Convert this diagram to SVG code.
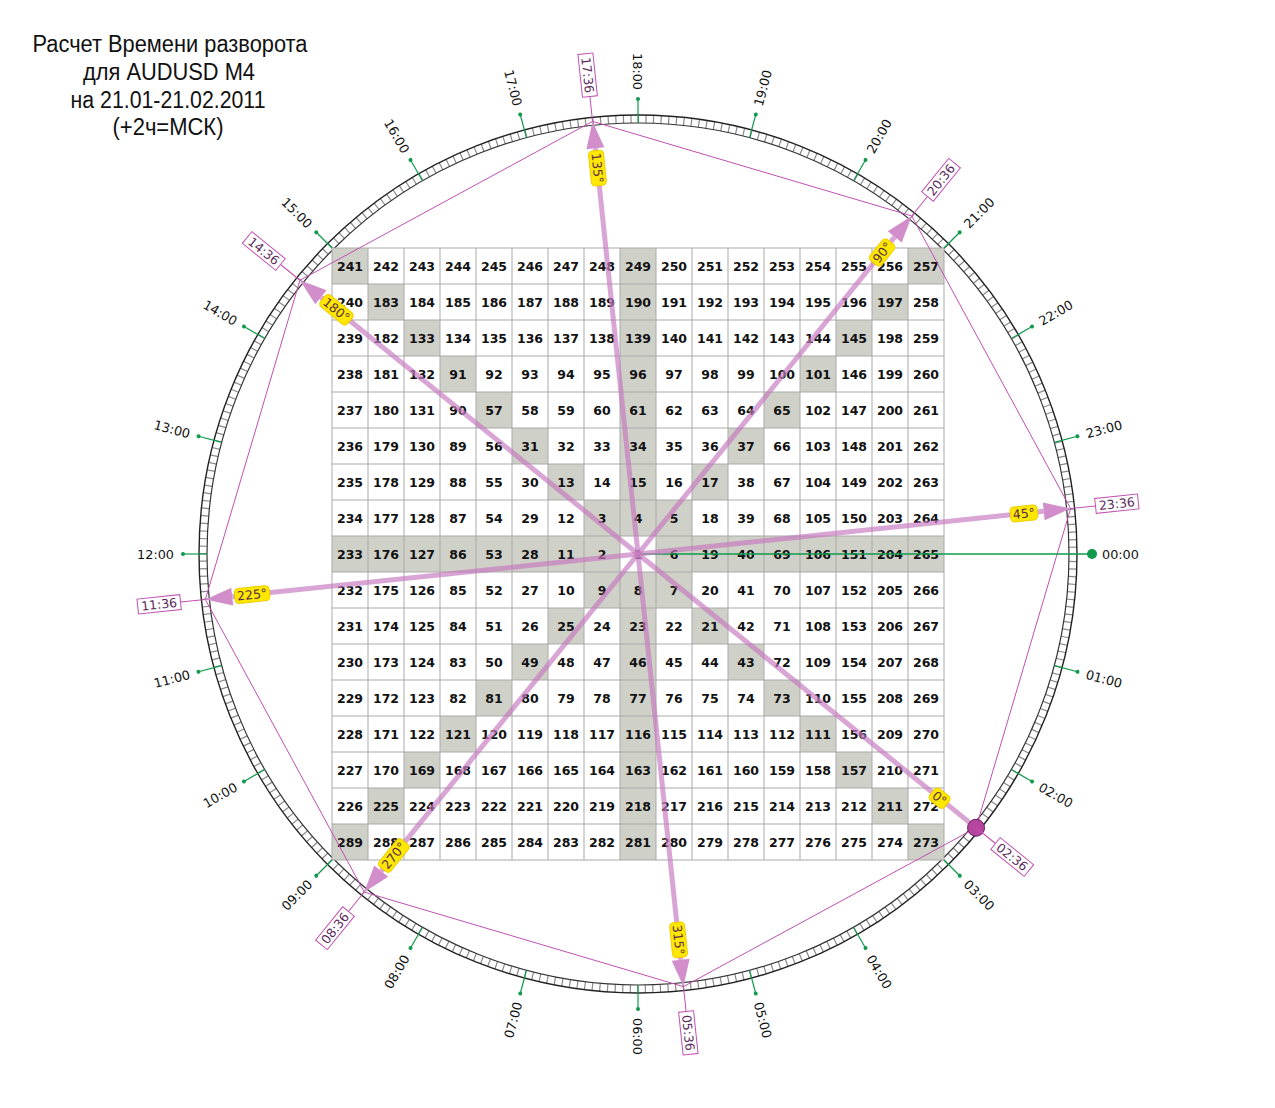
<svg xmlns="http://www.w3.org/2000/svg" width="1275" height="1108" viewBox="0 0 1275 1108">
<style>
.title{font-family:"Liberation Sans",Arial,sans-serif;font-size:23.5px;fill:#111;text-anchor:middle}
.num{font-family:"DejaVu Sans",Verdana,sans-serif;font-size:12.5px;font-weight:bold;fill:#111;text-anchor:middle}
.hr{font-family:"DejaVu Sans",Verdana,sans-serif;font-size:12.8px;fill:#111}
.st{text-anchor:start}
.en{text-anchor:end}
.tick{stroke:#109a4c;stroke-width:1.2}
.tdot{fill:#109a4c}
.tl{stroke:#c050b2;stroke-width:1;fill:none}
.tbox{fill:#fff;stroke:#c050b2;stroke-width:1}
.ttxt{font-family:"DejaVu Sans",Verdana,sans-serif;font-size:12.5px;fill:#5c2a5c;text-anchor:middle}
.arr{stroke:#c67abf;stroke-width:5;stroke-opacity:0.68}
.ahead{fill:#d28ecb}
.ybox{fill:#ffe800;stroke:#f0cc00;stroke-width:1}
.ytxt{font-family:"DejaVu Sans",Verdana,sans-serif;font-size:12.5px;fill:#5a2c4a;text-anchor:middle}
</style>

<g id="title">
<text class="title" x="170" y="52" textLength="275" lengthAdjust="spacingAndGlyphs">Расчет Времени разворота</text>
<text class="title" x="169" y="80" textLength="172" lengthAdjust="spacingAndGlyphs">для AUDUSD M4</text>
<text class="title" x="168" y="108" textLength="195" lengthAdjust="spacingAndGlyphs">на 21.01-21.02.2011</text>
<text class="title" x="168" y="135" textLength="111" lengthAdjust="spacingAndGlyphs">(+2ч=МСК)</text>
</g>

<g id="ring">
<circle cx="638" cy="554" r="435" fill="none" stroke="#8a8a8a" stroke-width="8" stroke-dasharray="1.2 6.3922" stroke-dashoffset="0.6"/>
<circle cx="638" cy="554" r="439" fill="none" stroke="#222" stroke-width="1.4"/>
<circle cx="638" cy="554" r="431" fill="none" stroke="#333" stroke-width="1.2"/>
</g>

<g id="hours">
<g transform="rotate(15 638 554)"><line class="tick" x1="1069" y1="554" x2="1093" y2="554"/><circle class="tdot" cx="1093" cy="554" r="2"/><text class="hr st" x="1102" y="554" dy=".36em">01:00</text></g>
<g transform="rotate(30 638 554)"><line class="tick" x1="1069" y1="554" x2="1093" y2="554"/><circle class="tdot" cx="1093" cy="554" r="2"/><text class="hr st" x="1102" y="554" dy=".36em">02:00</text></g>
<g transform="rotate(45 638 554)"><line class="tick" x1="1069" y1="554" x2="1093" y2="554"/><circle class="tdot" cx="1093" cy="554" r="2"/><text class="hr st" x="1102" y="554" dy=".36em">03:00</text></g>
<g transform="rotate(60 638 554)"><line class="tick" x1="1069" y1="554" x2="1093" y2="554"/><circle class="tdot" cx="1093" cy="554" r="2"/><text class="hr st" x="1102" y="554" dy=".36em">04:00</text></g>
<g transform="rotate(75 638 554)"><line class="tick" x1="1069" y1="554" x2="1093" y2="554"/><circle class="tdot" cx="1093" cy="554" r="2"/><text class="hr st" x="1102" y="554" dy=".36em">05:00</text></g>
<g transform="rotate(90 638 554)"><line class="tick" x1="1069" y1="554" x2="1093" y2="554"/><circle class="tdot" cx="1093" cy="554" r="2"/><text class="hr st" x="1102" y="554" dy=".36em">06:00</text></g>
<g transform="rotate(105 638 554)"><line class="tick" x1="1069" y1="554" x2="1093" y2="554"/><circle class="tdot" cx="1093" cy="554" r="2"/><text class="hr en" x="1102" y="554" dy=".36em" transform="rotate(180 1102 554)">07:00</text></g>
<g transform="rotate(120 638 554)"><line class="tick" x1="1069" y1="554" x2="1093" y2="554"/><circle class="tdot" cx="1093" cy="554" r="2"/><text class="hr en" x="1102" y="554" dy=".36em" transform="rotate(180 1102 554)">08:00</text></g>
<g transform="rotate(135 638 554)"><line class="tick" x1="1069" y1="554" x2="1093" y2="554"/><circle class="tdot" cx="1093" cy="554" r="2"/><text class="hr en" x="1102" y="554" dy=".36em" transform="rotate(180 1102 554)">09:00</text></g>
<g transform="rotate(150 638 554)"><line class="tick" x1="1069" y1="554" x2="1093" y2="554"/><circle class="tdot" cx="1093" cy="554" r="2"/><text class="hr en" x="1102" y="554" dy=".36em" transform="rotate(180 1102 554)">10:00</text></g>
<g transform="rotate(165 638 554)"><line class="tick" x1="1069" y1="554" x2="1093" y2="554"/><circle class="tdot" cx="1093" cy="554" r="2"/><text class="hr en" x="1102" y="554" dy=".36em" transform="rotate(180 1102 554)">11:00</text></g>
<g transform="rotate(180 638 554)"><line class="tick" x1="1069" y1="554" x2="1093" y2="554"/><circle class="tdot" cx="1093" cy="554" r="2"/><text class="hr en" x="1102" y="554" dy=".36em" transform="rotate(180 1102 554)">12:00</text></g>
<g transform="rotate(195 638 554)"><line class="tick" x1="1069" y1="554" x2="1093" y2="554"/><circle class="tdot" cx="1093" cy="554" r="2"/><text class="hr en" x="1102" y="554" dy=".36em" transform="rotate(180 1102 554)">13:00</text></g>
<g transform="rotate(210 638 554)"><line class="tick" x1="1069" y1="554" x2="1093" y2="554"/><circle class="tdot" cx="1093" cy="554" r="2"/><text class="hr en" x="1102" y="554" dy=".36em" transform="rotate(180 1102 554)">14:00</text></g>
<g transform="rotate(225 638 554)"><line class="tick" x1="1069" y1="554" x2="1093" y2="554"/><circle class="tdot" cx="1093" cy="554" r="2"/><text class="hr en" x="1102" y="554" dy=".36em" transform="rotate(180 1102 554)">15:00</text></g>
<g transform="rotate(240 638 554)"><line class="tick" x1="1069" y1="554" x2="1093" y2="554"/><circle class="tdot" cx="1093" cy="554" r="2"/><text class="hr en" x="1102" y="554" dy=".36em" transform="rotate(180 1102 554)">16:00</text></g>
<g transform="rotate(255 638 554)"><line class="tick" x1="1069" y1="554" x2="1093" y2="554"/><circle class="tdot" cx="1093" cy="554" r="2"/><text class="hr en" x="1102" y="554" dy=".36em" transform="rotate(180 1102 554)">17:00</text></g>
<g transform="rotate(270 638 554)"><line class="tick" x1="1069" y1="554" x2="1093" y2="554"/><circle class="tdot" cx="1093" cy="554" r="2"/><text class="hr en" x="1102" y="554" dy=".36em" transform="rotate(180 1102 554)">18:00</text></g>
<g transform="rotate(285 638 554)"><line class="tick" x1="1069" y1="554" x2="1093" y2="554"/><circle class="tdot" cx="1093" cy="554" r="2"/><text class="hr st" x="1102" y="554" dy=".36em">19:00</text></g>
<g transform="rotate(300 638 554)"><line class="tick" x1="1069" y1="554" x2="1093" y2="554"/><circle class="tdot" cx="1093" cy="554" r="2"/><text class="hr st" x="1102" y="554" dy=".36em">20:00</text></g>
<g transform="rotate(315 638 554)"><line class="tick" x1="1069" y1="554" x2="1093" y2="554"/><circle class="tdot" cx="1093" cy="554" r="2"/><text class="hr st" x="1102" y="554" dy=".36em">21:00</text></g>
<g transform="rotate(330 638 554)"><line class="tick" x1="1069" y1="554" x2="1093" y2="554"/><circle class="tdot" cx="1093" cy="554" r="2"/><text class="hr st" x="1102" y="554" dy=".36em">22:00</text></g>
<g transform="rotate(345 638 554)"><line class="tick" x1="1069" y1="554" x2="1093" y2="554"/><circle class="tdot" cx="1093" cy="554" r="2"/><text class="hr st" x="1102" y="554" dy=".36em">23:00</text></g>
</g>

<g id="grid">
<rect x="332" y="248" width="612" height="612" fill="#fff"/>
<path fill="#cfd0c8" d="M332 536h612v36h-612z M620 248h36v612h-36z
M332 248h36v36h-36z M908 248h36v36h-36z
M368 284h36v36h-36z M872 284h36v36h-36z
M404 320h36v36h-36z M836 320h36v36h-36z
M440 356h36v36h-36z M800 356h36v36h-36z
M476 392h36v36h-36z M764 392h36v36h-36z
M512 428h36v36h-36z M728 428h36v36h-36z
M548 464h36v36h-36z M692 464h36v36h-36z
M584 500h36v36h-36z M656 500h36v36h-36z
M584 572h36v36h-36z M656 572h36v36h-36z
M548 608h36v36h-36z M692 608h36v36h-36z
M512 644h36v36h-36z M728 644h36v36h-36z
M476 680h36v36h-36z M764 680h36v36h-36z
M440 716h36v36h-36z M800 716h36v36h-36z
M404 752h36v36h-36z M836 752h36v36h-36z
M368 788h36v36h-36z M872 788h36v36h-36z
M332 824h36v36h-36z M908 824h36v36h-36z"/>
<rect x="620" y="536" width="36" height="36" fill="#fff"/>
<path fill="none" stroke="#a9a9a9" stroke-width="1" d="M332 248v612M368 248v612M404 248v612M440 248v612M476 248v612M512 248v612M548 248v612M584 248v612M620 248v612M656 248v612M692 248v612M728 248v612M764 248v612M800 248v612M836 248v612M872 248v612M908 248v612M944 248v612
M332 248h612M332 284h612M332 320h612M332 356h612M332 392h612M332 428h612M332 464h612M332 500h612M332 536h612M332 572h612M332 608h612M332 644h612M332 680h612M332 716h612M332 752h612M332 788h612M332 824h612M332 860h612"/>
<g class="num">
<text y="270.5"><tspan x="350">241</tspan><tspan x="386">242</tspan><tspan x="422">243</tspan><tspan x="458">244</tspan><tspan x="494">245</tspan><tspan x="530">246</tspan><tspan x="566">247</tspan><tspan x="602">248</tspan><tspan x="638">249</tspan><tspan x="674">250</tspan><tspan x="710">251</tspan><tspan x="746">252</tspan><tspan x="782">253</tspan><tspan x="818">254</tspan><tspan x="854">255</tspan><tspan x="890">256</tspan><tspan x="926">257</tspan></text>
<text y="306.5"><tspan x="350">240</tspan><tspan x="386">183</tspan><tspan x="422">184</tspan><tspan x="458">185</tspan><tspan x="494">186</tspan><tspan x="530">187</tspan><tspan x="566">188</tspan><tspan x="602">189</tspan><tspan x="638">190</tspan><tspan x="674">191</tspan><tspan x="710">192</tspan><tspan x="746">193</tspan><tspan x="782">194</tspan><tspan x="818">195</tspan><tspan x="854">196</tspan><tspan x="890">197</tspan><tspan x="926">258</tspan></text>
<text y="342.5"><tspan x="350">239</tspan><tspan x="386">182</tspan><tspan x="422">133</tspan><tspan x="458">134</tspan><tspan x="494">135</tspan><tspan x="530">136</tspan><tspan x="566">137</tspan><tspan x="602">138</tspan><tspan x="638">139</tspan><tspan x="674">140</tspan><tspan x="710">141</tspan><tspan x="746">142</tspan><tspan x="782">143</tspan><tspan x="818">144</tspan><tspan x="854">145</tspan><tspan x="890">198</tspan><tspan x="926">259</tspan></text>
<text y="378.5"><tspan x="350">238</tspan><tspan x="386">181</tspan><tspan x="422">132</tspan><tspan x="458">91</tspan><tspan x="494">92</tspan><tspan x="530">93</tspan><tspan x="566">94</tspan><tspan x="602">95</tspan><tspan x="638">96</tspan><tspan x="674">97</tspan><tspan x="710">98</tspan><tspan x="746">99</tspan><tspan x="782">100</tspan><tspan x="818">101</tspan><tspan x="854">146</tspan><tspan x="890">199</tspan><tspan x="926">260</tspan></text>
<text y="414.5"><tspan x="350">237</tspan><tspan x="386">180</tspan><tspan x="422">131</tspan><tspan x="458">90</tspan><tspan x="494">57</tspan><tspan x="530">58</tspan><tspan x="566">59</tspan><tspan x="602">60</tspan><tspan x="638">61</tspan><tspan x="674">62</tspan><tspan x="710">63</tspan><tspan x="746">64</tspan><tspan x="782">65</tspan><tspan x="818">102</tspan><tspan x="854">147</tspan><tspan x="890">200</tspan><tspan x="926">261</tspan></text>
<text y="450.5"><tspan x="350">236</tspan><tspan x="386">179</tspan><tspan x="422">130</tspan><tspan x="458">89</tspan><tspan x="494">56</tspan><tspan x="530">31</tspan><tspan x="566">32</tspan><tspan x="602">33</tspan><tspan x="638">34</tspan><tspan x="674">35</tspan><tspan x="710">36</tspan><tspan x="746">37</tspan><tspan x="782">66</tspan><tspan x="818">103</tspan><tspan x="854">148</tspan><tspan x="890">201</tspan><tspan x="926">262</tspan></text>
<text y="486.5"><tspan x="350">235</tspan><tspan x="386">178</tspan><tspan x="422">129</tspan><tspan x="458">88</tspan><tspan x="494">55</tspan><tspan x="530">30</tspan><tspan x="566">13</tspan><tspan x="602">14</tspan><tspan x="638">15</tspan><tspan x="674">16</tspan><tspan x="710">17</tspan><tspan x="746">38</tspan><tspan x="782">67</tspan><tspan x="818">104</tspan><tspan x="854">149</tspan><tspan x="890">202</tspan><tspan x="926">263</tspan></text>
<text y="522.5"><tspan x="350">234</tspan><tspan x="386">177</tspan><tspan x="422">128</tspan><tspan x="458">87</tspan><tspan x="494">54</tspan><tspan x="530">29</tspan><tspan x="566">12</tspan><tspan x="602">3</tspan><tspan x="638">4</tspan><tspan x="674">5</tspan><tspan x="710">18</tspan><tspan x="746">39</tspan><tspan x="782">68</tspan><tspan x="818">105</tspan><tspan x="854">150</tspan><tspan x="890">203</tspan><tspan x="926">264</tspan></text>
<text y="558.5"><tspan x="350">233</tspan><tspan x="386">176</tspan><tspan x="422">127</tspan><tspan x="458">86</tspan><tspan x="494">53</tspan><tspan x="530">28</tspan><tspan x="566">11</tspan><tspan x="602">2</tspan><tspan x="638">1</tspan><tspan x="674">6</tspan><tspan x="710">19</tspan><tspan x="746">40</tspan><tspan x="782">69</tspan><tspan x="818">106</tspan><tspan x="854">151</tspan><tspan x="890">204</tspan><tspan x="926">265</tspan></text>
<text y="594.5"><tspan x="350">232</tspan><tspan x="386">175</tspan><tspan x="422">126</tspan><tspan x="458">85</tspan><tspan x="494">52</tspan><tspan x="530">27</tspan><tspan x="566">10</tspan><tspan x="602">9</tspan><tspan x="638">8</tspan><tspan x="674">7</tspan><tspan x="710">20</tspan><tspan x="746">41</tspan><tspan x="782">70</tspan><tspan x="818">107</tspan><tspan x="854">152</tspan><tspan x="890">205</tspan><tspan x="926">266</tspan></text>
<text y="630.5"><tspan x="350">231</tspan><tspan x="386">174</tspan><tspan x="422">125</tspan><tspan x="458">84</tspan><tspan x="494">51</tspan><tspan x="530">26</tspan><tspan x="566">25</tspan><tspan x="602">24</tspan><tspan x="638">23</tspan><tspan x="674">22</tspan><tspan x="710">21</tspan><tspan x="746">42</tspan><tspan x="782">71</tspan><tspan x="818">108</tspan><tspan x="854">153</tspan><tspan x="890">206</tspan><tspan x="926">267</tspan></text>
<text y="666.5"><tspan x="350">230</tspan><tspan x="386">173</tspan><tspan x="422">124</tspan><tspan x="458">83</tspan><tspan x="494">50</tspan><tspan x="530">49</tspan><tspan x="566">48</tspan><tspan x="602">47</tspan><tspan x="638">46</tspan><tspan x="674">45</tspan><tspan x="710">44</tspan><tspan x="746">43</tspan><tspan x="782">72</tspan><tspan x="818">109</tspan><tspan x="854">154</tspan><tspan x="890">207</tspan><tspan x="926">268</tspan></text>
<text y="702.5"><tspan x="350">229</tspan><tspan x="386">172</tspan><tspan x="422">123</tspan><tspan x="458">82</tspan><tspan x="494">81</tspan><tspan x="530">80</tspan><tspan x="566">79</tspan><tspan x="602">78</tspan><tspan x="638">77</tspan><tspan x="674">76</tspan><tspan x="710">75</tspan><tspan x="746">74</tspan><tspan x="782">73</tspan><tspan x="818">110</tspan><tspan x="854">155</tspan><tspan x="890">208</tspan><tspan x="926">269</tspan></text>
<text y="738.5"><tspan x="350">228</tspan><tspan x="386">171</tspan><tspan x="422">122</tspan><tspan x="458">121</tspan><tspan x="494">120</tspan><tspan x="530">119</tspan><tspan x="566">118</tspan><tspan x="602">117</tspan><tspan x="638">116</tspan><tspan x="674">115</tspan><tspan x="710">114</tspan><tspan x="746">113</tspan><tspan x="782">112</tspan><tspan x="818">111</tspan><tspan x="854">156</tspan><tspan x="890">209</tspan><tspan x="926">270</tspan></text>
<text y="774.5"><tspan x="350">227</tspan><tspan x="386">170</tspan><tspan x="422">169</tspan><tspan x="458">168</tspan><tspan x="494">167</tspan><tspan x="530">166</tspan><tspan x="566">165</tspan><tspan x="602">164</tspan><tspan x="638">163</tspan><tspan x="674">162</tspan><tspan x="710">161</tspan><tspan x="746">160</tspan><tspan x="782">159</tspan><tspan x="818">158</tspan><tspan x="854">157</tspan><tspan x="890">210</tspan><tspan x="926">271</tspan></text>
<text y="810.5"><tspan x="350">226</tspan><tspan x="386">225</tspan><tspan x="422">224</tspan><tspan x="458">223</tspan><tspan x="494">222</tspan><tspan x="530">221</tspan><tspan x="566">220</tspan><tspan x="602">219</tspan><tspan x="638">218</tspan><tspan x="674">217</tspan><tspan x="710">216</tspan><tspan x="746">215</tspan><tspan x="782">214</tspan><tspan x="818">213</tspan><tspan x="854">212</tspan><tspan x="890">211</tspan><tspan x="926">272</tspan></text>
<text y="846.5"><tspan x="350">289</tspan><tspan x="386">288</tspan><tspan x="422">287</tspan><tspan x="458">286</tspan><tspan x="494">285</tspan><tspan x="530">284</tspan><tspan x="566">283</tspan><tspan x="602">282</tspan><tspan x="638">281</tspan><tspan x="674">280</tspan><tspan x="710">279</tspan><tspan x="746">278</tspan><tspan x="782">277</tspan><tspan x="818">276</tspan><tspan x="854">275</tspan><tspan x="890">274</tspan><tspan x="926">273</tspan></text>
</g>
</g>

<g id="connectors">
<polygon class="tl" points="976.06,827.75 683.47,986.62 364.25,892.06 205.38,599.47 299.94,280.25 592.53,121.38 911.75,215.94 1070.62,508.53"/>
<line x1="638" y1="554" x2="1092" y2="554" stroke="#109a4c" stroke-width="1.3"/>
<circle cx="1092" cy="554" r="5" fill="#109a4c"/>
<g id="arrow-0"><g transform="rotate(39 638 554)"><line class="arr" x1="638" y1="554" x2="1068" y2="554"/></g></g>
<g id="arrow-45"><g transform="rotate(354 638 554)"><line class="arr" x1="638" y1="554" x2="1046" y2="554"/><polygon class="ahead" points="1046,545 1073,554 1046,563"/></g></g>
<g id="arrow-90"><g transform="rotate(309 638 554)"><line class="arr" x1="638" y1="554" x2="1046" y2="554"/><polygon class="ahead" points="1046,545 1073,554 1046,563"/></g></g>
<g id="arrow-135"><g transform="rotate(264 638 554)"><line class="arr" x1="638" y1="554" x2="1046" y2="554"/><polygon class="ahead" points="1046,545 1073,554 1046,563"/></g></g>
<g id="arrow-180"><g transform="rotate(219 638 554)"><line class="arr" x1="638" y1="554" x2="1046" y2="554"/><polygon class="ahead" points="1046,545 1073,554 1046,563"/></g></g>
<g id="arrow-225"><g transform="rotate(174 638 554)"><line class="arr" x1="638" y1="554" x2="1046" y2="554"/><polygon class="ahead" points="1046,545 1073,554 1046,563"/></g></g>
<g id="arrow-270"><g transform="rotate(129 638 554)"><line class="arr" x1="638" y1="554" x2="1046" y2="554"/><polygon class="ahead" points="1046,545 1073,554 1046,563"/></g></g>
<g id="arrow-315"><g transform="rotate(84 638 554)"><line class="arr" x1="638" y1="554" x2="1046" y2="554"/><polygon class="ahead" points="1046,545 1073,554 1046,563"/></g></g>
<circle cx="976.06" cy="827.75" r="8.5" fill="#b5459f" stroke="#6b2063" stroke-width="1"/>
</g>

<g id="angle-labels">
<g transform="rotate(39 638 554)"><rect class="ybox" x="1016.5" y="546.5" width="19" height="15" rx="4"/><text class="ytxt" x="1026" y="554" dy=".36em">0°</text></g>
<g transform="rotate(354 638 554)"><rect class="ybox" x="1012.5" y="546.5" width="27" height="15" rx="4"/><text class="ytxt" x="1026" y="554" dy=".36em">45°</text></g>
<g transform="rotate(309 638 554)"><rect class="ybox" x="1012.5" y="546.5" width="27" height="15" rx="4"/><text class="ytxt" x="1026" y="554" dy=".36em">90°</text></g>
<g transform="rotate(264 638 554)"><rect class="ybox" x="1008.5" y="546.5" width="35" height="15" rx="4"/><text class="ytxt" x="1026" y="554" dy=".36em" transform="rotate(180 1026 554)">135°</text></g>
<g transform="rotate(219 638 554)"><rect class="ybox" x="1008.5" y="546.5" width="35" height="15" rx="4"/><text class="ytxt" x="1026" y="554" dy=".36em" transform="rotate(180 1026 554)">180°</text></g>
<g transform="rotate(174 638 554)"><rect class="ybox" x="1008.5" y="546.5" width="35" height="15" rx="4"/><text class="ytxt" x="1026" y="554" dy=".36em" transform="rotate(180 1026 554)">225°</text></g>
<g transform="rotate(129 638 554)"><rect class="ybox" x="1008.5" y="546.5" width="35" height="15" rx="4"/><text class="ytxt" x="1026" y="554" dy=".36em" transform="rotate(180 1026 554)">270°</text></g>
<g transform="rotate(84 638 554)"><rect class="ybox" x="1008.5" y="546.5" width="35" height="15" rx="4"/><text class="ytxt" x="1026" y="554" dy=".36em">315°</text></g>
</g>

<g id="time-labels">
<g id="t0236" transform="rotate(39 638 554)"><line class="tl" x1="1073" y1="554" x2="1098" y2="554"/><rect class="tbox" x="1098" y="546.5" width="43" height="15"/><text class="ttxt" x="1119.5" y="554" dy=".36em">02:36</text></g>
<g id="t0536" transform="rotate(84 638 554)"><line class="tl" x1="1073" y1="554" x2="1098" y2="554"/><rect class="tbox" x="1098" y="546.5" width="43" height="15"/><text class="ttxt" x="1119.5" y="554" dy=".36em">05:36</text></g>
<g id="t0836" transform="rotate(129 638 554)"><line class="tl" x1="1073" y1="554" x2="1098" y2="554"/><rect class="tbox" x="1098" y="546.5" width="43" height="15"/><text class="ttxt" x="1119.5" y="554" dy=".36em" transform="rotate(180 1119.5 554)">08:36</text></g>
<g id="t1136" transform="rotate(174 638 554)"><line class="tl" x1="1073" y1="554" x2="1098" y2="554"/><rect class="tbox" x="1098" y="546.5" width="43" height="15"/><text class="ttxt" x="1119.5" y="554" dy=".36em" transform="rotate(180 1119.5 554)">11:36</text></g>
<g id="t1436" transform="rotate(219 638 554)"><line class="tl" x1="1073" y1="554" x2="1098" y2="554"/><rect class="tbox" x="1098" y="546.5" width="43" height="15"/><text class="ttxt" x="1119.5" y="554" dy=".36em" transform="rotate(180 1119.5 554)">14:36</text></g>
<g id="t1736" transform="rotate(264 638 554)"><line class="tl" x1="1073" y1="554" x2="1098" y2="554"/><rect class="tbox" x="1098" y="546.5" width="43" height="15"/><text class="ttxt" x="1119.5" y="554" dy=".36em" transform="rotate(180 1119.5 554)">17:36</text></g>
<g id="t2036" transform="rotate(309 638 554)"><line class="tl" x1="1073" y1="554" x2="1098" y2="554"/><rect class="tbox" x="1098" y="546.5" width="43" height="15"/><text class="ttxt" x="1119.5" y="554" dy=".36em">20:36</text></g>
<g id="t2336" transform="rotate(354 638 554)"><line class="tl" x1="1073" y1="554" x2="1098" y2="554"/><rect class="tbox" x="1098" y="546.5" width="43" height="15"/><text class="ttxt" x="1119.5" y="554" dy=".36em">23:36</text></g>
</g>

<g id="zero-hour">
<text class="hr st" x="1102" y="554" dy=".36em">00:00</text>
</g>
</svg>
